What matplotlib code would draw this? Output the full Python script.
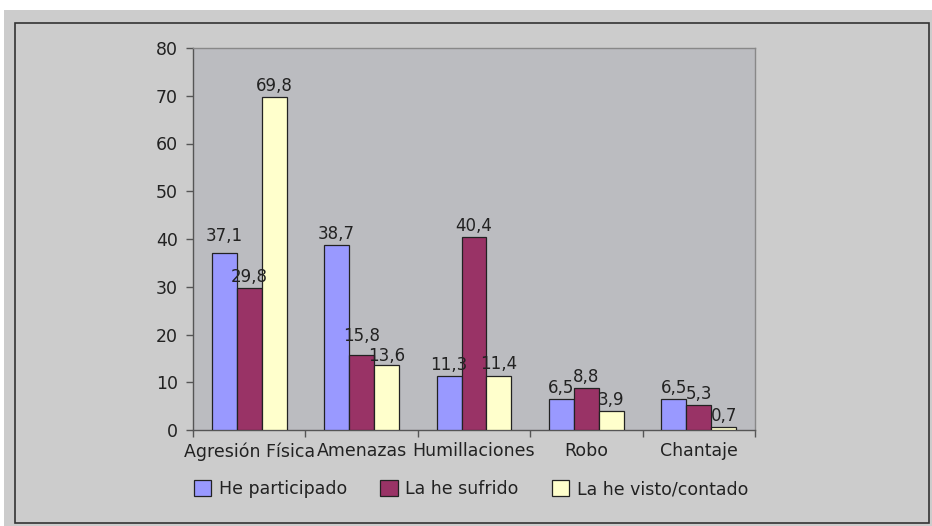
import matplotlib
matplotlib.use("Agg")
import matplotlib.pyplot as plt
from matplotlib.patches import Rectangle
import numpy as np

categories = ["Agresión Física", "Amenazas", "Humillaciones", "Robo", "Chantaje"]
series_names = ["He participado", "La he sufrido", "La he visto/contado"]
participado = [37.1, 38.7, 11.3, 6.5, 6.5]
sufrido = [29.8, 15.8, 40.4, 8.8, 5.3]
visto = [69.8, 13.6, 11.4, 3.9, 0.7]
yticks = [0, 10, 20, 30, 40, 50, 60, 70, 80]

colors = ["#9999ff", "#993366", "#ffffcc"]
# label nudges (points) as placed in the original: (series index, category index) -> dy
label_nudge = {(0, 0): 4.0, (1, 1): 5.5, (2, 1): -1.2}

plt.rcParams['font.family'] = ['DejaVu Sans']
W, H = 932, 526
fig = plt.figure(figsize=(W / 100, H / 100), dpi=100)
fig.patch.set_facecolor("white")

# outer gray area and bordered chart area
fig.add_artist(Rectangle((4 / W, 0), (W - 4) / W, (H - 10) / H, transform=fig.transFigure,
                         facecolor="#cccccc", edgecolor="none", zorder=0))
fig.add_artist(Rectangle((15 / W, 1 - 523 / H), (929 - 15) / W, (523 - 23) / H,
                         transform=fig.transFigure, facecolor="none",
                         edgecolor="#333333", linewidth=1.2, zorder=1))

ax = fig.add_axes([193 / W, 1 - 430 / H, (755 - 193) / W, (430 - 48) / H])
ax.set_facecolor("#bbbcc0")

x = np.arange(len(categories))
bw = 1 / 4.5
series = [participado, sufrido, visto]
for i, (vals, c, name) in enumerate(zip(series, colors, series_names)):
    pos = x + (i - 1) * bw
    ax.bar(pos, vals, width=bw, color=c, edgecolor="#222222", linewidth=0.9,
           label=name, zorder=3)
    for j, (p, v) in enumerate(zip(pos, vals)):
        dy = 1.5 + label_nudge.get((i, j), 0.0)
        ax.annotate(f"{v:.1f}".replace(".", ","), (p, v), xytext=(0, dy),
                    textcoords="offset points", ha="center", va="bottom",
                    fontsize=12, color="#222222", zorder=4)

ax.set_xlim(-0.5, len(categories) - 0.5)
ax.set_ylim(0, 80)
ax.set_yticks(yticks)
ax.set_yticklabels([str(t) for t in yticks])
ax.set_xticks(x)
ax.set_xticklabels(categories)
ax.set_xticks(np.arange(len(categories) + 1) - 0.5, minor=True)
ax.tick_params(axis="x", which="major", length=0, pad=9, labelsize=12.5, labelcolor="#222222")
ax.tick_params(axis="x", which="minor", length=5, width=1, color="#555555", direction="out")
ax.tick_params(axis="y", length=5, width=1, color="#555555", pad=6, labelsize=12.5,
               labelcolor="#222222", direction="out")

for s in ["top", "right"]:
    ax.spines[s].set_color("#888888")
    ax.spines[s].set_linewidth(1)
for s in ["left", "bottom"]:
    ax.spines[s].set_color("#555555")
    ax.spines[s].set_linewidth(1)

fig.legend(loc="center", bbox_to_anchor=(471 / W, 1 - 489 / H), ncol=3, frameon=False,
           fontsize=12.5, handlelength=1.0, handleheight=1.05, handletextpad=0.45,
           columnspacing=1.9, labelcolor="#222222")

fig.savefig("out.png", dpi=100, facecolor=fig.get_facecolor())
